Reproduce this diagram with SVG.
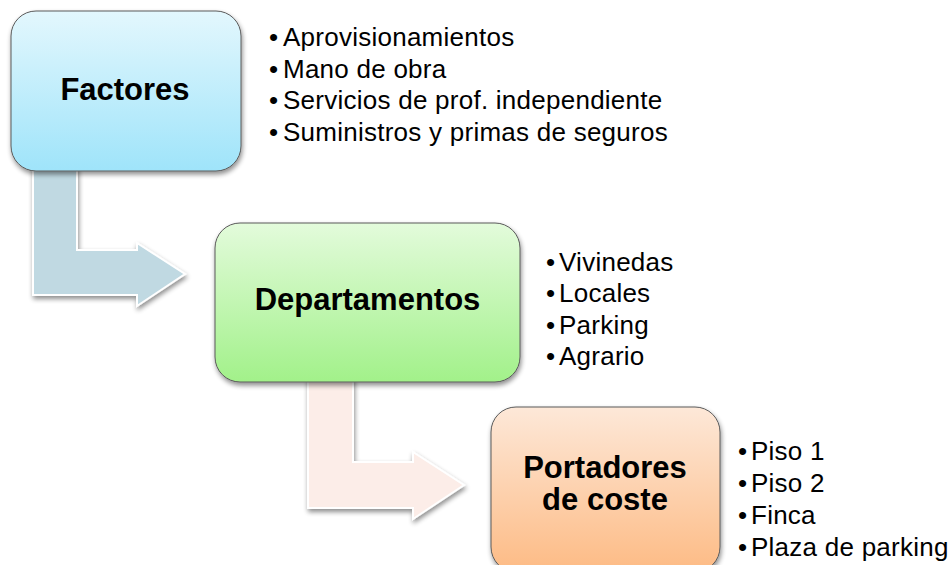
<svg xmlns="http://www.w3.org/2000/svg" width="951" height="565" viewBox="0 0 951 565">
  <defs>
    <linearGradient id="gBlue" x1="0" y1="0" x2="0" y2="1">
      <stop offset="0" stop-color="#e3f7fd"/>
      <stop offset="1" stop-color="#9fe4fa"/>
    </linearGradient>
    <linearGradient id="gGreen" x1="0" y1="0" x2="0" y2="1">
      <stop offset="0" stop-color="#e3fbdb"/>
      <stop offset="1" stop-color="#a2f18a"/>
    </linearGradient>
    <linearGradient id="gOrange" x1="0" y1="0" x2="0" y2="1">
      <stop offset="0" stop-color="#fde8d8"/>
      <stop offset="1" stop-color="#fdbb85"/>
    </linearGradient>
    <filter id="shadow" x="-10%" y="-10%" width="125%" height="125%">
      <feGaussianBlur in="SourceAlpha" stdDeviation="2.5"/>
      <feOffset dx="1" dy="3" result="b"/>
      <feComponentTransfer><feFuncA type="linear" slope="0.45"/></feComponentTransfer>
      <feMerge><feMergeNode/><feMergeNode in="SourceGraphic"/></feMerge>
    </filter>
  </defs>
  <style>
    .box { stroke: #5a5a5a; stroke-width: 1; filter: url(#shadow); }
    .title { font-family: "Liberation Sans", Arial, sans-serif; font-weight: bold; font-size: 31px; fill: #000; text-anchor: middle; }
    .item { font-family: "Liberation Sans", Arial, sans-serif; font-size: 26px; letter-spacing: 0.25px; fill: #000; }
    .arrow { stroke: #ffffff; stroke-width: 2; stroke-linejoin: miter; filter: url(#shadow); }
  </style>

  <g id="connectors">
    <path class="arrow" fill="#c0d9e2" d="M33,165 L77,165 L77,250 L137,250 L137,243 L185,274 L137,306 L137,295 L33,295 Z"/>
    <path class="arrow" fill="#fcede8" d="M308,376 L353,376 L353,462 L413,462 L413,452 L464,485 L413,519 L413,508 L308,508 Z"/>
  </g>

  <g id="factores">
    <rect class="box" x="11" y="11" width="230" height="160" rx="25" ry="25" fill="url(#gBlue)"/>
    <text class="title" x="125" y="100">Factores</text>
  </g>

  <g id="factores-list">
    <text class="item" x="269" y="46">•</text><text class="item" x="283" y="46">Aprovisionamientos</text>
    <text class="item" x="269" y="77.5">•</text><text class="item" x="283" y="77.5">Mano de obra</text>
    <text class="item" x="269" y="109">•</text><text class="item" x="283" y="109">Servicios de prof. independiente</text>
    <text class="item" x="269" y="140.5">•</text><text class="item" x="283" y="140.5">Suministros y primas de seguros</text>
  </g>

  <g id="departamentos">
    <rect class="box" x="215" y="223" width="305" height="159" rx="25" ry="25" fill="url(#gGreen)"/>
    <text class="title" x="367.5" y="310">Departamentos</text>
  </g>

  <g id="departamentos-list">
    <text class="item" x="546" y="271">•</text><text class="item" x="559" y="271">Vivinedas</text>
    <text class="item" x="546" y="302">•</text><text class="item" x="559" y="302">Locales</text>
    <text class="item" x="546" y="333.5">•</text><text class="item" x="559" y="333.5">Parking</text>
    <text class="item" x="546" y="364.5">•</text><text class="item" x="559" y="364.5">Agrario</text>
  </g>

  <g id="portadores">
    <rect class="box" x="491" y="407" width="229" height="165" rx="25" ry="25" fill="url(#gOrange)"/>
    <text class="title" x="605" y="478">Portadores</text>
    <text class="title" x="605" y="510">de coste</text>
  </g>

  <g id="portadores-list">
    <text class="item" x="738" y="460">•</text><text class="item" x="751" y="460">Piso 1</text>
    <text class="item" x="738" y="492">•</text><text class="item" x="751" y="492">Piso 2</text>
    <text class="item" x="738" y="524">•</text><text class="item" x="751" y="524">Finca</text>
    <text class="item" x="738" y="555.5">•</text><text class="item" x="751" y="555.5">Plaza de parking</text>
  </g>
</svg>
